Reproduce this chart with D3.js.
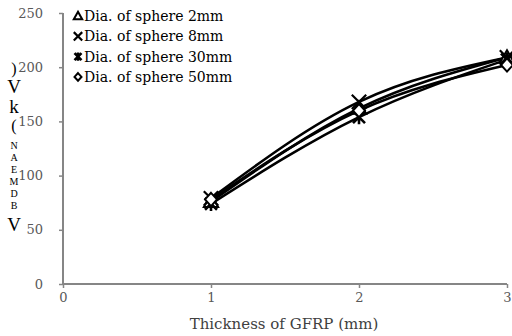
<!DOCTYPE html>
<html>
<head>
<meta charset="utf-8">
<script src="https://cdn.jsdelivr.net/npm/d3@7"></script>
<style>
  body { margin: 0; background: #fff; }
  svg { display: block; font-family: "DejaVu Serif", "Liberation Serif", serif; }
</style>
</head>
<body>
<svg width="512" height="336"></svg>
<script>
// Data
const thickness = [1, 2, 3];
const sphere2mm = [76, 162, 209];
const sphere8mm = [79, 168, 209];
const sphere30mm = [74, 154, 207];
const sphere50mm = [78, 160, 202];
const seriesNames = ["Dia. of sphere 2mm", "Dia. of sphere 8mm", "Dia. of sphere 30mm", "Dia. of sphere 50mm"];
const seriesMarkers = ["triangle", "cross", "asterisk", "diamond"];
const xTicks = [0, 1, 2, 3];
const yTicks = [0, 50, 100, 150, 200, 250];

const series = [sphere2mm, sphere8mm, sphere30mm, sphere50mm].map((vals, i) => ({
  name: seriesNames[i],
  marker: seriesMarkers[i],
  points: vals.map((v, j) => ({ x: thickness[j], y: v }))
}));

const svg = d3.select("svg");
const margin = { top: 13, right: 5, bottom: 52, left: 63 };
const width = 512 - margin.left - margin.right;
const height = 336 - margin.top - margin.bottom;

const g = svg.append("g").attr("transform", `translate(${margin.left},${margin.top})`);

const x = d3.scaleLinear().domain([0, 3]).range([0, width]);
const y = d3.scaleLinear().domain([0, 250]).range([height, 0]);

// Axes
const axisColor = "#868686";
const xAxis = g.append("g")
  .attr("transform", `translate(0,${height})`)
  .call(d3.axisBottom(x).tickValues(xTicks).tickSize(4).tickPadding(5).tickFormat(d3.format("d")));
const yAxis = g.append("g")
  .call(d3.axisLeft(y).tickValues(yTicks).tickSize(4).tickPadding(16));

[xAxis, yAxis].forEach(a => {
  a.select(".domain").attr("stroke", axisColor).attr("stroke-width", 2);
  a.selectAll(".tick line").attr("stroke", axisColor).attr("stroke-width", 1.5);
  a.selectAll(".tick text")
    .attr("fill", "#595959")
    .style("font-size", "13px")
    .style("font-family", "DejaVu Serif, serif");
});
xAxis.selectAll(".domain").attr("d", `M0,0H${width}`);
yAxis.selectAll(".domain").attr("d", `M0,0V${height}`);

// Axis title
svg.append("text")
  .attr("x", 284)
  .attr("y", 329)
  .attr("text-anchor", "middle")
  .attr("fill", "#404040")
  .style("font-size", "15px")
  .text("Thickness of GFRP (mm)");

// Stacked y label, characters upright, listed from top to bottom
const yLabelChars = [
  { c: ")", y: 74, s: 16 },
  { c: "V", y: 93, s: 19 },
  { c: "k", y: 113, s: 19 },
  { c: "(", y: 131, s: 16 },
  { c: "N", y: 149, s: 10 },
  { c: "A", y: 161, s: 10 },
  { c: "E", y: 173, s: 10 },
  { c: "M", y: 185, s: 10 },
  { c: "D", y: 197, s: 10 },
  { c: "B", y: 209, s: 10 },
  { c: "V", y: 231, s: 19 }
];
svg.append("g").selectAll("text")
  .data(yLabelChars)
  .join("text")
  .attr("x", 14)
  .attr("y", d => d.y)
  .attr("text-anchor", "middle")
  .attr("fill", "#000")
  .style("font-family", "Liberation Serif, serif")
  .style("font-size", d => d.s + "px")
  .text(d => d.c);

// Lines
const line = d3.line()
  .x(d => x(d.x))
  .y(d => y(d.y))
  .curve(d3.curveNatural);

g.selectAll(".series")
  .data(series)
  .join("path")
  .attr("class", "series")
  .attr("fill", "none")
  .attr("stroke", "#000")
  .attr("stroke-width", 2.6)
  .attr("d", d => line(d.points));

// Markers
function drawMarker(sel, type, size) {
  const s = size;
  if (type === "triangle") {
    sel.append("path")
      .attr("d", `M0,${-s * 0.6}L${s * 0.6},${s * 0.45}L${-s * 0.6},${s * 0.45}Z`)
      .attr("fill", "#fff").attr("stroke", "#000").attr("stroke-width", 2);
  } else if (type === "cross") {
    sel.append("path")
      .attr("d", `M${-s * 0.6},${-s * 0.6}L${s * 0.6},${s * 0.6}M${s * 0.6},${-s * 0.6}L${-s * 0.6},${s * 0.6}`)
      .attr("stroke", "#000").attr("stroke-width", 2.2);
  } else if (type === "asterisk") {
    sel.append("path")
      .attr("d", `M${-s * 0.5},${-s * 0.5}L${s * 0.5},${s * 0.5}M${s * 0.5},${-s * 0.5}L${-s * 0.5},${s * 0.5}M0,${-s * 0.6}V${s * 0.6}`)
      .attr("stroke", "#000").attr("stroke-width", 2.6);
  } else {
    sel.append("path")
      .attr("d", `M0,${-s * 0.55}L${s * 0.5},0L0,${s * 0.55}L${-s * 0.5},0Z`)
      .attr("fill", "#fff").attr("stroke", "#000").attr("stroke-width", 2);
  }
}

series.forEach(sr => {
  sr.points.forEach(p => {
    const m = g.append("g").attr("transform", `translate(${x(p.x)},${y(p.y)})`);
    drawMarker(m, sr.marker, 12);
  });
});

// Legend
const legend = svg.append("g").attr("transform", "translate(78,16)");
series.forEach((sr, i) => {
  const row = legend.append("g").attr("transform", `translate(0,${i * 20.3})`);
  drawMarker(row.append("g"), sr.marker, 7);
  row.append("text")
    .attr("x", 6)
    .attr("y", 5)
    .attr("fill", "#000")
    .style("font-size", "14px")
    .text(sr.name);
});
</script>
</body>
</html>
